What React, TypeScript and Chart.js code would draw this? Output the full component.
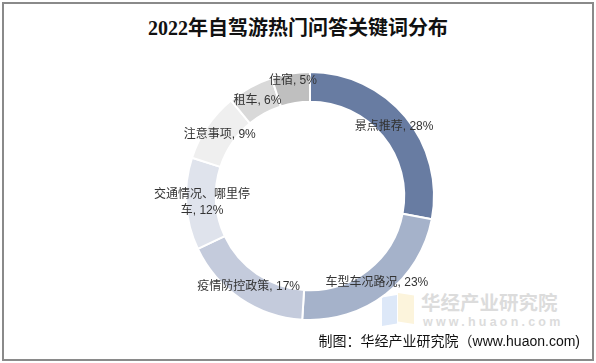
import React, { useEffect, useRef } from "react";
import { Chart, registerables } from "chart.js";

Chart.register(...registerables);

const titleText = "2022年自驾游热门问答关键词分布";
const sourceText = "制图：华经产业研究院（www.huaon.com)";
const categories = ["景点推荐", "车型车况路况", "疫情防控政策", "交通情况、哪里停车", "注意事项", "租车", "住宿"];
const values = [28, 23, 17, 12, 9, 6, 5];
const colors = ["#687ca2", "#a5b2ca", "#c4cbdc", "#dfe3ec", "#efefef", "#d9d9d9", "#bfbfbf"];

const LABEL_FONT = "12px 'Liberation Sans', 'Noto Sans CJK SC', sans-serif";

function wrapText(ctx: CanvasRenderingContext2D, text: string, maxWidth: number): string[] {
  if (ctx.measureText(text).width <= maxWidth) return [text];
  const lines: string[] = [];
  let cur = "";
  for (const ch of Array.from(text)) {
    const test = cur + ch;
    if (ctx.measureText(test).width > maxWidth && cur) {
      lines.push(cur);
      cur = ch;
    } else {
      cur = test;
    }
  }
  if (cur) lines.push(cur);
  return lines;
}

const labelPlugin = {
  id: "ringLabels",
  afterDatasetsDraw(chart: any) {
    const ctx: CanvasRenderingContext2D = chart.ctx;
    const meta = chart.getDatasetMeta(0);
    const nudges: Record<number, [number, number]> = { 3: [1, 0], 6: [0, -8] };
    ctx.save();
    ctx.font = LABEL_FONT;
    ctx.fillStyle = "#333333";
    ctx.textAlign = "center";
    ctx.textBaseline = "middle";
    meta.data.forEach((arc: any, i: number) => {
      const p = arc.getProps(["x", "y", "startAngle", "endAngle", "innerRadius", "outerRadius"], true);
      const mid = (p.startAngle + p.endAngle) / 2;
      const r = (p.innerRadius + p.outerRadius) / 2;
      const n = nudges[i] || [0, 0];
      const cx = p.x + Math.cos(mid) * r + n[0];
      const cy = p.y + Math.sin(mid) * r + n[1];
      const text = `${categories[i]}, ${values[i]}%`;
      const lines = wrapText(ctx, text, 105);
      const lh = 16;
      lines.forEach((ln, k) => {
        ctx.fillText(ln, cx, cy + (k - (lines.length - 1) / 2) * lh);
      });
    });
    ctx.restore();
  },
};

export default function App() {
  const ref = useRef<HTMLCanvasElement | null>(null);
  useEffect(() => {
    if (!ref.current) return;
    const chart = new Chart(ref.current, {
      type: "doughnut",
      data: {
        labels: categories,
        datasets: [
          {
            data: values,
            backgroundColor: colors,
            borderColor: "#ffffff",
            borderWidth: 2,
            radius: 124,
            hoverOffset: 0,
          } as any,
        ],
      },
      options: {
        responsive: false,
        animation: false,
        cutout: "76%",
        layout: { padding: { left: 24, top: 29, right: 0, bottom: 0 } },
        plugins: {
          legend: { display: false },
          tooltip: { enabled: false },
          title: { display: false },
        },
      },
      plugins: [labelPlugin],
    });
    return () => chart.destroy();
  }, []);

  return (
    <div style={{ position: "absolute", left: 0, top: 0, width: 596, height: 363, background: "#fff", overflow: "hidden" }}>
      <div
        style={{
          position: "absolute",
          left: 2,
          top: 2,
          width: 588,
          height: 355,
          border: "2px solid #8a8a8a",
        }}
      />
      <div
        style={{
          position: "absolute",
          left: 0,
          top: 14,
          width: 596,
          textAlign: "center",
          fontFamily: "'Liberation Serif', 'Noto Sans CJK SC', serif",
          fontWeight: "bold",
          fontSize: 20,
          lineHeight: "28px",
          color: "#111",
        }}
      >
        {titleText}
      </div>
      {/* watermark */}
      <div
        style={{
          position: "absolute",
          left: 382,
          top: 295,
          width: 15,
          height: 31,
          background: "#dde8f8",
          clipPath: "polygon(0 8%, 100% 0, 100% 92%, 0 100%)",
        }}
      />
      <div
        style={{
          position: "absolute",
          left: 398,
          top: 293,
          width: 16,
          height: 31,
          background: "#fcf4dc",
          clipPath: "polygon(0 0, 100% 8%, 100% 100%, 0 92%)",
        }}
      />
      <div
        style={{
          position: "absolute",
          left: 421,
          top: 290,
          fontFamily: "'Noto Sans CJK SC', sans-serif",
          fontWeight: "bold",
          fontSize: 19.5,
          lineHeight: "24px",
          color: "#dcdcdc",
          whiteSpace: "nowrap",
        }}
      >
        华经产业研究院
      </div>
      <div
        style={{
          position: "absolute",
          left: 423,
          top: 314,
          fontFamily: "'Liberation Sans', sans-serif",
          fontWeight: "bold",
          fontSize: 12.5,
          letterSpacing: 3.2,
          lineHeight: "16px",
          color: "#dcdcdc",
          whiteSpace: "nowrap",
        }}
      >
        www.huaon.com
      </div>
      <canvas ref={ref} width={596} height={363} style={{ position: "absolute", left: 0, top: 0, width: 596, height: 363 }} />
      <div
        style={{
          position: "absolute",
          right: 16,
          top: 331,
          fontFamily: "'Liberation Sans', 'Noto Sans CJK SC', sans-serif",
          fontSize: 14,
          lineHeight: "20px",
          color: "#111",
          whiteSpace: "nowrap",
        }}
      >
        {sourceText}
      </div>
    </div>
  );
}
